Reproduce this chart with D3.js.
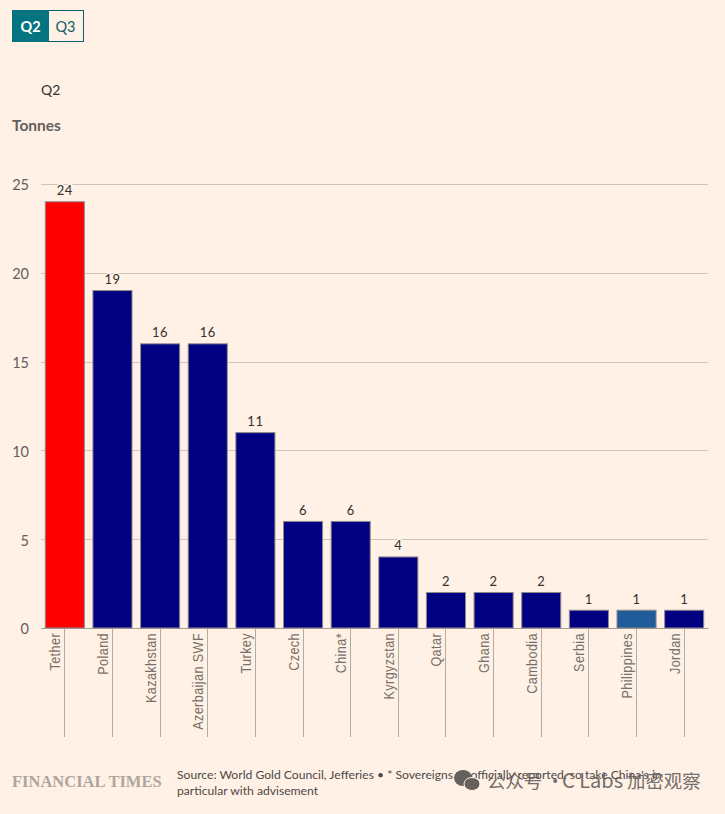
<!DOCTYPE html>
<html>
<head>
<meta charset="utf-8">
<script src="https://cdn.jsdelivr.net/npm/d3@7"></script>
<style>
  html, body { margin: 0; padding: 0; background: #fff1e5; }
  svg { display: block; }
  text { font-family: "Lato", "Noto Sans", sans-serif; }
  .tick line { shape-rendering: crispEdges; }
</style>
</head>
<body>
<div id="chart"></div>
<script>
// values
var categories = ["Tether", "Poland", "Kazakhstan", "Azerbaijan SWF", "Turkey", "Czech", "China*",
  "Kyrgyzstan", "Qatar", "Ghana", "Cambodia", "Serbia", "Philippines", "Jordan"];
var tonnes = [24, 19, 16, 16, 11, 6, 6, 4, 2, 2, 2, 1, 1, 1];
var barColors = ["#ff0000", "#000080", "#000080", "#000080", "#000080", "#000080", "#000080",
  "#000080", "#000080", "#000080", "#000080", "#000080", "#1f5c99", "#000080"];
var yTicks = [0, 5, 10, 15, 20, 25];

var svgWidth = 725;
var svgHeight = 814;

var margin = { top: 184, right: 17, bottom: 186, left: 41 };
var width = svgWidth - margin.left - margin.right;
var height = svgHeight - margin.top - margin.bottom;

var svg = d3.select("#chart")
  .append("svg")
  .attr("width", svgWidth)
  .attr("height", svgHeight);

// Q2 / Q3 toggle
svg.append("rect").attr("x", 12.5).attr("y", 10.5).attr("width", 71).attr("height", 31)
  .attr("fill", "#fff1e5").attr("stroke", "#0f5f66");
svg.append("rect").attr("x", 12).attr("y", 10).attr("width", 37).attr("height", 32)
  .attr("fill", "#047580");
svg.append("text").attr("x", 30.5).attr("y", 31.5).attr("text-anchor", "middle")
  .attr("fill", "#fff").style("font-size", "14.5px").style("font-weight", "700").text("Q2");
svg.append("text").attr("x", 65.5).attr("y", 31.5).attr("text-anchor", "middle")
  .attr("fill", "#0f5f66").style("font-size", "14.5px").text("Q3");

// headings
svg.append("text").attr("x", 41).attr("y", 95)
  .attr("fill", "#33302e").style("font-size", "14px").text("Q2");
svg.append("text").attr("x", 12).attr("y", 131)
  .attr("fill", "#66605c").style("font-size", "15.5px").style("font-weight", "700").text("Tonnes");

var chartGroup = svg.append("g")
  .attr("transform", `translate(${margin.left}, ${margin.top})`);

// scales
var xBandScale = d3.scaleBand()
  .domain(categories)
  .range([0, width])
  .paddingInner(0.18)
  .paddingOuter(0.09);

var yLinearScale = d3.scaleLinear()
  .domain([0, 25])
  .range([height, 0]);

// y axis with gridlines
var leftAxis = d3.axisLeft(yLinearScale)
  .tickValues(yTicks)
  .tickSize(-width)
  .tickPadding(12);

var yAxisGroup = chartGroup.append("g").call(leftAxis);
yAxisGroup.select(".domain").remove();
yAxisGroup.selectAll(".tick line").attr("stroke", "#cec6b9");
yAxisGroup.selectAll(".tick text")
  .attr("fill", "#66605c")
  .attr("dy", "0.4em")
  .style("font-size", "14.5px");

// x axis: long ticks with rotated names
var bottomAxis = d3.axisBottom(xBandScale)
  .tickSize(109)
  .tickSizeOuter(0);

var xAxisGroup = chartGroup.append("g")
  .attr("transform", `translate(0, ${height})`)
  .call(bottomAxis);
xAxisGroup.select(".domain").attr("stroke", "#a69f98");
xAxisGroup.selectAll(".tick line").attr("stroke", "#b3aca3");
xAxisGroup.selectAll(".tick text")
  .attr("fill", "#77706a")
  .attr("text-anchor", "end")
  .attr("dy", null)
  .attr("transform", "translate(-4.5, 5) rotate(-90) scale(0.84, 1)")
  .attr("x", 0)
  .attr("y", 0)
  .style("font-size", "15px")
  .style("font-family", "'Liberation Sans', sans-serif")
  .style("letter-spacing", "0.5px");

// bars
chartGroup.selectAll(".bar")
  .data(categories)
  .enter()
  .append("rect")
  .attr("class", "bar")
  .attr("x", d => xBandScale(d))
  .attr("y", (d, i) => yLinearScale(tonnes[i]))
  .attr("width", xBandScale.bandwidth())
  .attr("height", (d, i) => height - yLinearScale(tonnes[i]))
  .attr("fill", (d, i) => barColors[i])
  .attr("stroke", "#8f8a8c")
  .attr("stroke-width", 1);

// value labels, knocked out of the gridline behind them
chartGroup.selectAll(".value")
  .data(categories)
  .enter()
  .append("text")
  .attr("class", "value")
  .attr("x", d => xBandScale(d) + xBandScale.bandwidth() / 2)
  .attr("y", (d, i) => yLinearScale(tonnes[i]) - 6.5)
  .attr("text-anchor", "middle")
  .attr("fill", "#33302e")
  .attr("stroke", "#fff1e5")
  .attr("stroke-width", 3)
  .attr("paint-order", "stroke")
  .style("font-size", "13px")
  .style("letter-spacing", "0.5px")
  .text((d, i) => tonnes[i]);

// footer
svg.append("text").attr("x", 12).attr("y", 787)
  .attr("fill", "#aea69c")
  .style("font-family", "'Liberation Serif', serif")
  .style("font-weight", "700")
  .style("font-size", "16.5px")
  .text("FINANCIAL TIMES");

svg.append("text").attr("x", 177).attr("y", 779)
  .attr("fill", "#4d4845").style("font-size", "12.15px")
  .text("Source: World Gold Council, Jefferies • * Sovereigns as officially reported, so take China's in");
svg.append("text").attr("x", 177).attr("y", 795)
  .attr("fill", "#4d4845").style("font-size", "12.15px")
  .text("particular with advisement");

// watermark
var mark = svg.append("g").attr("fill", "#66605c");
mark.append("ellipse").attr("cx", 463).attr("cy", 778).attr("rx", 9).attr("ry", 8);
mark.append("ellipse").attr("cx", 472).attr("cy", 784).attr("rx", 8).attr("ry", 6.5)
  .attr("stroke", "#fff1e5").attr("stroke-width", 1);
var markText = svg.append("text").attr("y", 788)
  .attr("fill", "#66605c").attr("opacity", 0.9)
  .style("font-family", "'Noto Sans CJK SC', sans-serif")
  .style("font-size", "18.4px");
markText.append("tspan").attr("x", 487).text("公众号");
markText.append("tspan").attr("x", 546).text("·");
markText.append("tspan").attr("x", 562).style("font-size", "20px").text("C Labs");
markText.append("tspan").attr("x", 627).text("加密观察");
</script>
</body>
</html>
